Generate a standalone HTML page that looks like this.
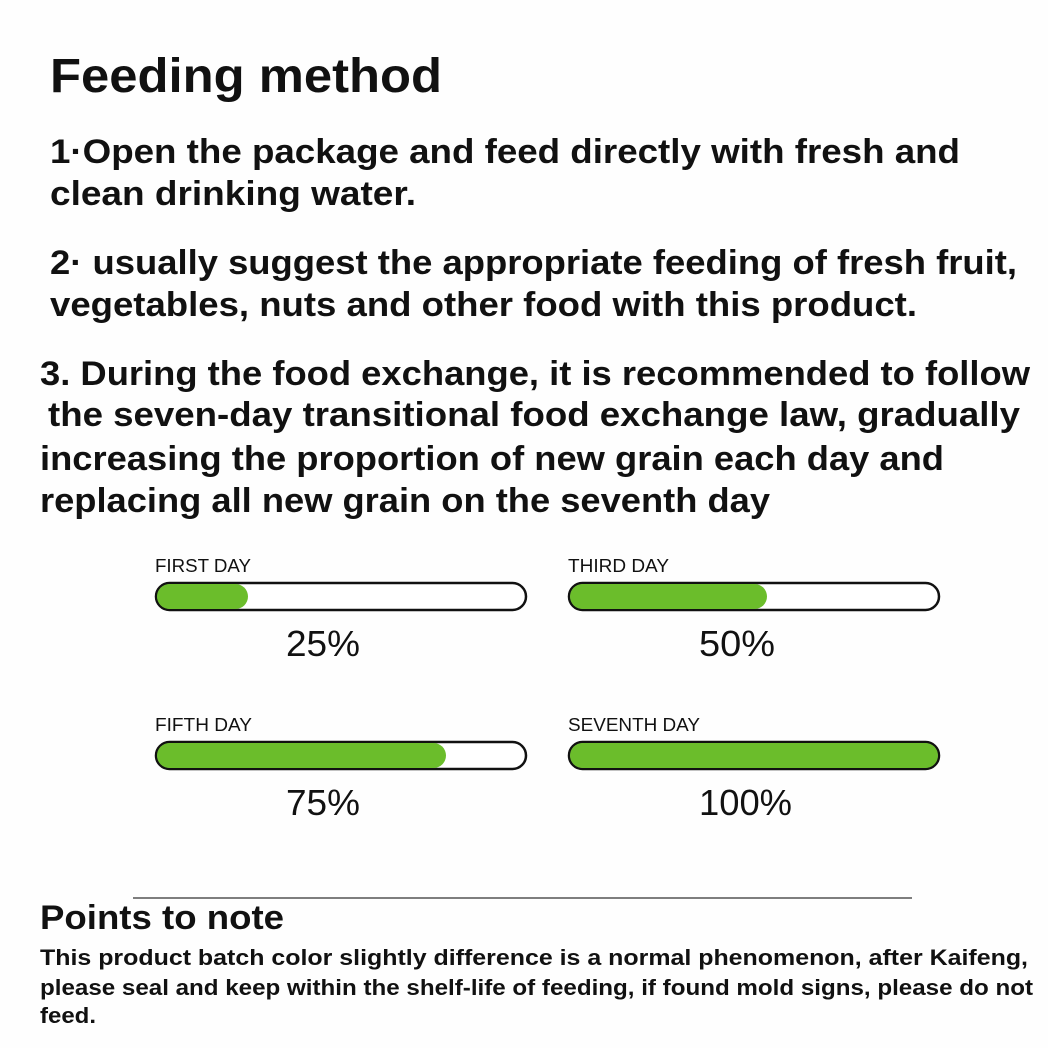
<!DOCTYPE html>
<html><head><meta charset="utf-8"><style>html,body{margin:0;padding:0;background:#fff}svg{display:block}</style></head><body>
<svg width="1048" height="1048" xmlns="http://www.w3.org/2000/svg" font-family="Liberation Sans, DejaVu Sans, sans-serif">
<rect width="1048" height="1048" fill="#fefefe"/>
<g font-weight="bold" fill="#111">
<text x="50" y="92" font-size="48" textLength="392" lengthAdjust="spacingAndGlyphs">Feeding method</text>
<g font-size="34">
<text x="50" y="163" textLength="910" lengthAdjust="spacingAndGlyphs">1·Open the package and feed directly with fresh and</text>
<text x="50" y="205" textLength="366" lengthAdjust="spacingAndGlyphs">clean drinking water.</text>
<text x="50" y="274" textLength="967" lengthAdjust="spacingAndGlyphs">2·  usually suggest the appropriate feeding of fresh fruit,</text>
<text x="50" y="316" textLength="867" lengthAdjust="spacingAndGlyphs">vegetables, nuts and other food with this product.</text>
<text x="40" y="385" textLength="990" lengthAdjust="spacingAndGlyphs">3. During the food exchange, it is recommended to follow</text>
<text x="48" y="426" textLength="972" lengthAdjust="spacingAndGlyphs">the seven-day transitional food exchange law, gradually</text>
<text x="40" y="470" textLength="904" lengthAdjust="spacingAndGlyphs">increasing the proportion of new grain each day and</text>
<text x="40" y="512" textLength="730" lengthAdjust="spacingAndGlyphs">replacing all new grain on the seventh day</text>
<text x="40" y="929" textLength="244" lengthAdjust="spacingAndGlyphs">Points to note</text>
</g>
<g font-size="22">
<text x="40" y="965" textLength="988" lengthAdjust="spacingAndGlyphs">This product batch color slightly difference is a normal phenomenon, after Kaifeng,</text>
<text x="40" y="995" textLength="993" lengthAdjust="spacingAndGlyphs">please seal and keep within the shelf-life of feeding, if found mold signs, please do not</text>
<text x="40" y="1023" textLength="56" lengthAdjust="spacingAndGlyphs">feed.</text>
</g>
</g>
<g font-size="18" fill="#111">
<text x="155" y="572" textLength="96" lengthAdjust="spacingAndGlyphs">FIRST DAY</text>
<text x="568" y="572" textLength="101" lengthAdjust="spacingAndGlyphs">THIRD DAY</text>
<text x="155" y="731" textLength="97" lengthAdjust="spacingAndGlyphs">FIFTH DAY</text>
<text x="568" y="731" textLength="132" lengthAdjust="spacingAndGlyphs">SEVENTH DAY</text>
</g>
<g font-size="36" fill="#111">
<text x="286" y="656" textLength="74" lengthAdjust="spacingAndGlyphs">25%</text>
<text x="699" y="656" textLength="76" lengthAdjust="spacingAndGlyphs">50%</text>
<text x="286" y="815" textLength="74" lengthAdjust="spacingAndGlyphs">75%</text>
<text x="699" y="815" textLength="93" lengthAdjust="spacingAndGlyphs">100%</text>
</g>
<g stroke="#111" stroke-width="2.5">
<rect x="156" y="583" width="370" height="27" rx="13.5" fill="#fff"/>
<rect x="569" y="583" width="370" height="27" rx="13.5" fill="#fff"/>
<rect x="156" y="742" width="370" height="27" rx="13.5" fill="#fff"/>
<rect x="569" y="742" width="370" height="27" rx="13.5" fill="#fff"/>
</g>
<g fill="#6bbd2b">
<rect x="157" y="584" width="91" height="25" rx="12.5"/>
<rect x="570" y="584" width="197" height="25" rx="12.5"/>
<rect x="157" y="743" width="289" height="25" rx="12.5"/>
<rect x="570" y="743" width="368" height="25" rx="12.5"/>
</g>
<line x1="133" y1="898" x2="912" y2="898" stroke="#333" stroke-width="1.2"/>
</svg>
</body></html>
